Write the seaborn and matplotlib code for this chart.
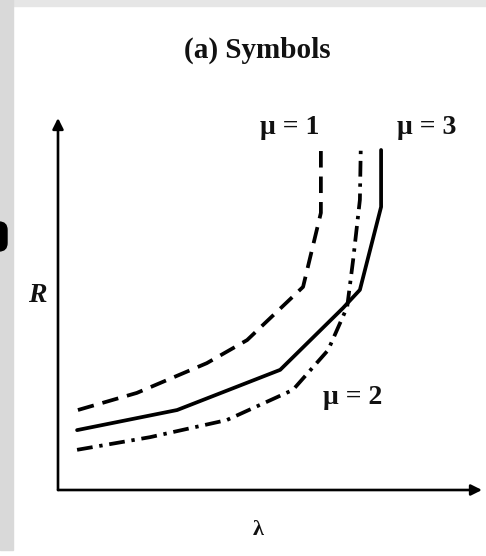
import matplotlib
matplotlib.use('Agg')
import matplotlib.pyplot as plt
import seaborn as sns
from matplotlib.patches import Rectangle, FancyBboxPatch
from matplotlib.transforms import IdentityTransform

# curve points (lambda, R)
lam_mu1 = [0.47, 1.86, 3.51, 4.46, 5.78, 6.20, 6.20]
R_mu1 = [2.15, 2.61, 3.41, 4.03, 5.46, 7.45, 9.14]

lam_mu2 = [0.45, 2.17, 3.98, 5.54, 6.37, 6.82, 6.96, 7.12, 7.14]
R_mu2 = [1.08, 1.42, 1.88, 2.69, 3.76, 4.92, 6.18, 7.80, 9.14]

lam_mu3 = [0.45, 2.81, 5.24, 6.72, 7.12, 7.62, 7.62]
R_mu3 = [1.61, 2.15, 3.23, 4.89, 5.38, 7.61, 9.14]

sns.set_style('white')
plt.rcParams['font.family'] = ['Liberation Serif', 'DejaVu Serif']

W, H = 486, 556
fig = plt.figure(figsize=(W / 100, H / 100), dpi=100, facecolor='white')

# scanned page edges
fig.patches.append(Rectangle((0, 1 - 6 / H), 1, 6 / H, transform=fig.transFigure,
                             color='#e6e6e6', zorder=0))
fig.patches.append(Rectangle((0, 6 / H), 13 / W, 1, transform=fig.transFigure,
                             color='#d9d9d9', zorder=0))
# bit of a letter from the neighbouring page
fig.patches.append(FancyBboxPatch((-20, H - 251), 27, 29, transform=IdentityTransform(),
                                  boxstyle='round,pad=0,rounding_size=8',
                                  color='black', zorder=1))

ax = fig.add_axes([58 / W, (H - 490) / H, (482 - 58) / W, (490 - 118) / H])
ax.set_facecolor('none')

lw = 2.7
sns.lineplot(x=lam_mu1, y=R_mu1, ax=ax, color='black', lw=lw, sort=False,
             estimator=None, linestyle=(0, (4.4, 2.4)), legend=False)
sns.lineplot(x=lam_mu2, y=R_mu2, ax=ax, color='black', lw=lw, sort=False,
             estimator=None, linestyle=(0, (4.2, 1.8, 0.9, 1.8)), legend=False)
sns.lineplot(x=lam_mu3, y=R_mu3, ax=ax, color='black', lw=lw, sort=False,
             estimator=None, legend=False)

ax.set_xlim(0, 10)
ax.set_ylim(0, 10)
ax.set_xticks([])
ax.set_yticks([])
ax.set_xlabel('')
ax.set_ylabel('')
for s in ax.spines.values():
    s.set_visible(False)

# axis arrows
arrow = dict(arrowstyle='-|>', lw=1.9, color='black', mutation_scale=16,
             shrinkA=0, shrinkB=0)
ax.annotate('', xy=(0, 1), xytext=(0, 0), xycoords='axes fraction',
            arrowprops=arrow, annotation_clip=False)
ax.annotate('', xy=(1, 0), xytext=(0, 0), xycoords='axes fraction',
            arrowprops=arrow, annotation_clip=False)

def ftext(px, py, s, **kw):
    fig.text(px / W, 1 - py / H, s, ha='center', va='center', color='#111111', **kw)

ftext(257, 50, '(a) Symbols', fontsize=21, fontweight='bold')
ftext(290, 128, 'μ = 1', fontsize=20, fontweight='bold')
ftext(427, 128, 'μ = 3', fontsize=20, fontweight='bold')
ftext(353, 398, 'μ = 2', fontsize=20, fontweight='bold')
ftext(37, 295, 'R', fontsize=20, fontweight='bold', style='italic')
ftext(258, 530, 'λ', fontsize=16, fontweight='bold')

fig.savefig('out.png', dpi=100, facecolor=fig.get_facecolor())
